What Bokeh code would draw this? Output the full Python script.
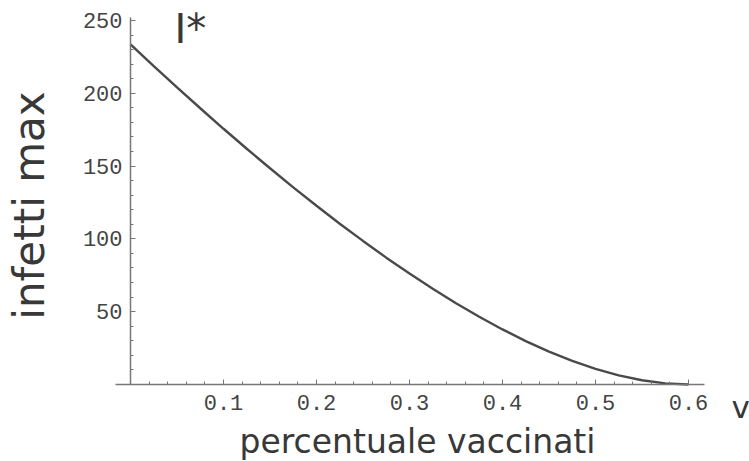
from bokeh.plotting import figure
from bokeh.models import Range1d, FixedTicker, Label
from bokeh.embed import file_html
from bokeh.resources import INLINE

# vaccinated fraction (x) and maximum number of infected (y)
vaccinati = [0.0, 0.025, 0.05, 0.075, 0.1, 0.125, 0.15, 0.175, 0.2, 0.225, 0.25,
             0.275, 0.3, 0.325, 0.35, 0.375, 0.4, 0.425, 0.45, 0.475, 0.5,
             0.525, 0.55, 0.575, 0.6]
infetti_max = [233.5, 218.6, 204.0, 189.7, 175.6, 161.9, 148.5, 135.4, 122.7, 110.4, 98.6,
               87.1, 76.2, 65.7, 55.8, 46.5, 37.8, 29.8, 22.6, 16.2, 10.7,
               6.3, 2.9, 0.75, 0.0]

x_ticks = [0.1, 0.2, 0.3, 0.4, 0.5, 0.6]
x_minor = [0.02, 0.04, 0.06, 0.08, 0.12, 0.14, 0.16, 0.18, 0.22, 0.24, 0.26, 0.28,
           0.32, 0.34, 0.36, 0.38, 0.42, 0.44, 0.46, 0.48, 0.52, 0.54, 0.56, 0.58]
y_ticks = [50, 100, 150, 200, 250]
y_minor = [10, 20, 30, 40, 60, 70, 80, 90, 110, 120, 130, 140, 160, 170, 180, 190,
           210, 220, 230, 240]

AXIS = "#777777"
TEXT = "#383838"

p = figure(width=749, height=461, output_backend="svg", toolbar_location=None,
           x_range=Range1d(-0.1398, 0.6656), y_range=Range1d(-52.9, 263.7),
           min_border_left=0, min_border_right=0, min_border_top=0, min_border_bottom=0,
           background_fill_color="white", border_fill_color="white")
p.outline_line_color = None
p.grid.visible = False

p.line(vaccinati, infetti_max, line_color="#4a4a4a", line_width=2.4)

# x axis, drawn through y = 0
xa = p.xaxis[0]
xa.fixed_location = 0
xa.bounds = (-0.0165, 0.617)
xa.ticker = FixedTicker(ticks=x_ticks, minor_ticks=x_minor)
xa.major_label_text_font = "Liberation Mono"
xa.major_label_text_font_size = "22px"
xa.major_label_text_color = "#444444"
xa.major_label_standoff = 11
xa.axis_line_color = AXIS
xa.axis_line_width = 1.5
xa.major_tick_line_color = AXIS
xa.minor_tick_line_color = AXIS
xa.major_tick_in = 5
xa.major_tick_out = 0
xa.minor_tick_in = 3
xa.minor_tick_out = 0

# y axis, drawn through x = 0
ya = p.yaxis[0]
ya.fixed_location = 0
ya.bounds = (0, 252)
ya.ticker = FixedTicker(ticks=y_ticks, minor_ticks=y_minor)
ya.major_label_text_font = "Liberation Mono"
ya.major_label_text_font_size = "22px"
ya.major_label_text_color = "#444444"
ya.major_label_standoff = 8
ya.axis_line_color = AXIS
ya.axis_line_width = 1.5
ya.major_tick_line_color = AXIS
ya.minor_tick_line_color = AXIS
ya.major_tick_in = 5
ya.major_tick_out = 0
ya.minor_tick_in = 3
ya.minor_tick_out = 0

p.add_layout(Label(x=-0.1086, y=122.9, text="infetti max", angle=1.5708,
                   text_font="DejaVu Sans", text_font_size="42px", text_color=TEXT,
                   text_align="center", text_baseline="alphabetic"))
p.add_layout(Label(x=0.3086, y=-39.1, text="percentuale vaccinati", text_font="DejaVu Sans",
                   text_font_size="33px", text_color=TEXT, text_align="center",
                   text_baseline="alphabetic"))
p.add_layout(Label(x=0.0473, y=244.4, text="I*", text_font="DejaVu Sans",
                   text_font_size="40px", text_color=TEXT, text_baseline="alphabetic"))
p.add_layout(Label(x=0.6462, y=-15.8, text="v", text_font="DejaVu Sans",
                   text_font_size="31px", text_color=TEXT, text_baseline="alphabetic"))

open("out.html", "w").write(file_html(p, INLINE))
